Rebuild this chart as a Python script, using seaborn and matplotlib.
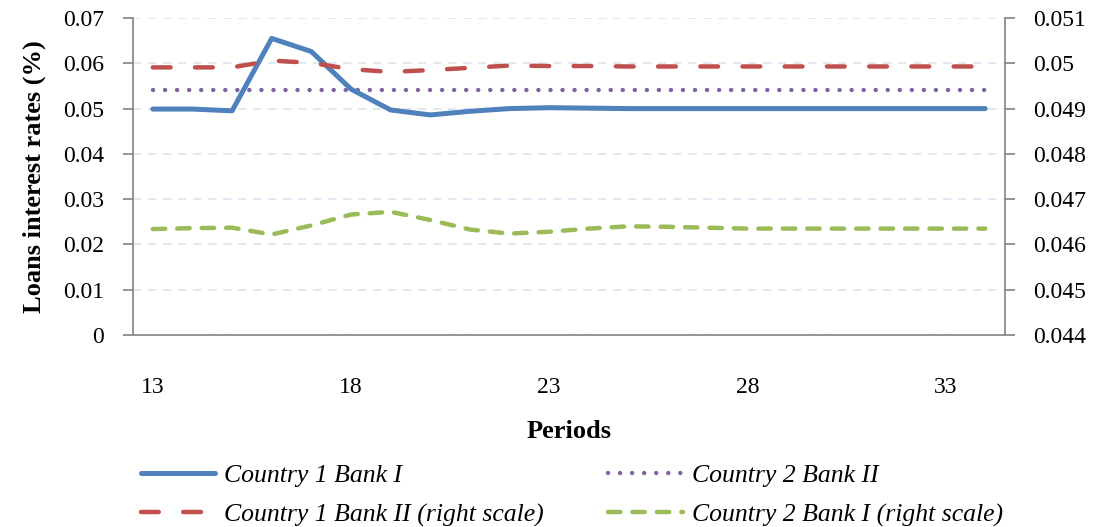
import numpy as np
import pandas as pd
import matplotlib
matplotlib.use("Agg")
import matplotlib.pyplot as plt
import seaborn as sns
from matplotlib.lines import Line2D

# ---------------------------------------------------------------------------
# Data
# ---------------------------------------------------------------------------
periods = list(range(13, 35))

c1_bank1 = [0.0499, 0.0499, 0.0495, 0.0655, 0.0626, 0.0543, 0.0497, 0.0486,
            0.0494, 0.0500, 0.0502, 0.0501, 0.0500, 0.0500, 0.0500, 0.0500,
            0.0500, 0.0500, 0.0500, 0.0500, 0.0500, 0.0500]
c2_bank2 = [0.0540] * 22
c1_bank2_right = [0.04991, 0.04991, 0.04991, 0.05006, 0.05001, 0.04987,
                  0.04981, 0.04985, 0.04990, 0.04995, 0.04994, 0.04994,
                  0.04993, 0.04993, 0.04993, 0.04993, 0.04993, 0.04993,
                  0.04993, 0.04993, 0.04993, 0.04993]
c2_bank1_right = [0.04634, 0.04636, 0.04637, 0.04622, 0.04642, 0.04666,
                  0.04672, 0.04654, 0.04633, 0.04624, 0.04628, 0.04635,
                  0.04640, 0.04639, 0.04637, 0.04635, 0.04635, 0.04635,
                  0.04635, 0.04635, 0.04635, 0.04635]

left_ticks = [0, 0.01, 0.02, 0.03, 0.04, 0.05, 0.06, 0.07]
left_labels = ["0", "0.01", "0.02", "0.03", "0.04", "0.05", "0.06", "0.07"]
right_ticks = [0.044, 0.045, 0.046, 0.047, 0.048, 0.049, 0.05, 0.051]
right_labels = ["0.044", "0.045", "0.046", "0.047", "0.048", "0.049", "0.05", "0.051"]
x_ticks = [13, 18, 23, 28, 33]

names = ["Country 1 Bank I", "Country 2 Bank II",
         "Country 1 Bank II (right scale)", "Country 2 Bank I (right scale)"]
colors = ["#4F81BD", "#8064A2", "#C0504D", "#9BBB59"]

# ---------------------------------------------------------------------------
# Styling
# ---------------------------------------------------------------------------
sns.set_theme(style="white")
plt.rcParams["font.family"] = ["Liberation Serif", "DejaVu Serif"]
plt.rcParams["text.color"] = "black"
plt.rcParams["axes.labelcolor"] = "black"

fig = plt.figure(figsize=(10.99, 5.27), dpi=100)
ax = fig.add_axes([0.121, 0.3643, 0.7935, 0.6015])
ax2 = ax.twinx()

df_left = pd.DataFrame({"period": periods, "c1b1": c1_bank1, "c2b2": c2_bank2})
df_right = pd.DataFrame({"period": periods, "c1b2": c1_bank2_right,
                         "c2b1": c2_bank1_right})

lw = 3.2
sns.lineplot(data=df_left, x="period", y="c1b1", ax=ax, color=colors[0],
             linewidth=3.6, solid_capstyle="round", zorder=4)
sns.lineplot(data=df_left, x="period", y="c2b2", ax=ax, color=colors[1],
             linewidth=lw, zorder=3)
ax.lines[-1].set_dashes((0.01, 2.7))
ax.lines[-1].set_dash_capstyle("round")

sns.lineplot(data=df_right, x="period", y="c1b2", ax=ax2, color=colors[2],
             linewidth=lw)
ax2.lines[-1].set_dashes((4, 5.5))
ax2.lines[-1].set_dash_capstyle("round")
sns.lineplot(data=df_right, x="period", y="c2b1", ax=ax2, color=colors[3],
             linewidth=lw)
ax2.lines[-1].set_dashes((2.8, 2.7))
ax2.lines[-1].set_dash_capstyle("round")

# Axes limits / ticks
ax.set_xlim(12.5, 34.5)
ax.set_ylim(0, 0.07)
ax2.set_ylim(0.044, 0.051)
ax.set_yticks(left_ticks)
ax.set_yticklabels(left_labels)
ax2.set_yticks(right_ticks)
ax2.set_yticklabels(right_labels)
ax.set_xticks(x_ticks)
ax.set_xticklabels([str(t) for t in x_ticks])

ax.yaxis.grid(True, color="#DCE4F2", linestyle=(0, (5, 4)), linewidth=1.2)
ax.set_axisbelow(True)

spine_col = "#8C8C8C"
for a in (ax, ax2):
    for s in a.spines.values():
        s.set_visible(False)
ax.spines["left"].set_visible(True)
ax.spines["bottom"].set_visible(True)
ax2.spines["right"].set_visible(True)
for s in (ax.spines["left"], ax.spines["bottom"], ax2.spines["right"]):
    s.set_color(spine_col)
    s.set_linewidth(1.3)

ax.tick_params(axis="y", which="major", left=True, length=7, width=1.3,
               color=spine_col, labelsize=17, pad=14, labelcolor="black")
ax2.tick_params(axis="y", which="major", right=True, length=7, width=1.3,
                color=spine_col, labelsize=17, pad=13, labelcolor="black")
ax.tick_params(axis="x", bottom=False, labelsize=17, pad=24,
               labelcolor="black")

ax.set_xlabel("Periods", fontsize=19, fontweight="bold", labelpad=16)
ax.set_ylabel("Loans interest rates (%)", fontsize=19, fontweight="bold",
              labelpad=12)
ax2.set_ylabel("")

# Legend below the plot
handles = [
    Line2D([], [], color=colors[0], linewidth=3.6, solid_capstyle="round"),
    Line2D([], [], color=colors[2], linewidth=lw, dashes=(4, 5.5),
           dash_capstyle="round"),
    Line2D([], [], color=colors[1], linewidth=lw, dashes=(0.01, 2.7),
           dash_capstyle="round"),
    Line2D([], [], color=colors[3], linewidth=lw, dashes=(2.8, 2.7),
           dash_capstyle="round"),
]
labels = [names[0], names[2], names[1], names[3]]
fig.legend(handles, labels, loc="upper left", bbox_to_anchor=(0.128, 0.12),
           ncol=2, frameon=False, handlelength=2.9, handletextpad=0.35,
           columnspacing=2.5, labelspacing=0.65, borderpad=0,
           borderaxespad=0, prop={"size": 18.5, "style": "italic"})
plt.savefig("out.png", dpi=100)
